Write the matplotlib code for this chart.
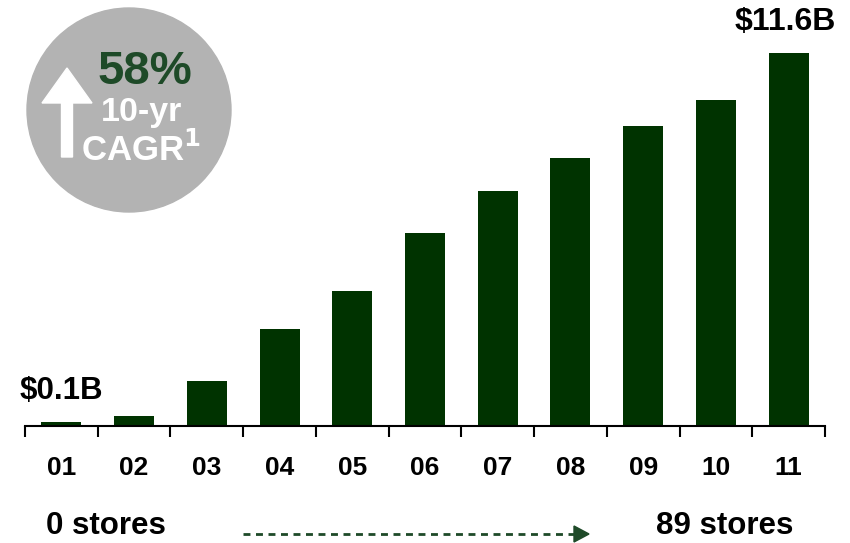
import numpy as np
import matplotlib
matplotlib.use('Agg')
import matplotlib.pyplot as plt
from matplotlib.patches import Circle, FancyArrow, Polygon

plt.rcParams['font.family'] = ['Liberation Sans', 'DejaVu Sans']

years = ['01', '02', '03', '04', '05', '06', '07', '08', '09', '10', '11']
revenue = [0.1, 0.3, 1.4, 3.0, 4.2, 6.0, 7.3, 8.35, 9.35, 10.15, 11.6]
first_label = '$0.1B'
last_label = '$11.6B'
cagr = '58%'

bar_color = '#003300'
text_green = '#1e4a28'

fig = plt.figure(figsize=(8.5, 5.43), dpi=100)
# pixel-based overlay for decorations
px = fig.add_axes([0, 0, 1, 1])
px.set_xlim(0, 850)
px.set_ylim(543, 0)
px.axis('off')

ax = fig.add_axes([25 / 850, 1 - 425.7 / 543, 800 / 850, 425.7 / 543])
ax.patch.set_alpha(0)
x = np.arange(len(years))
ax.bar(x, revenue, width=0.55, color=bar_color)
ax.set_xlim(-0.5, len(years) - 0.5)
ax.set_ylim(0, 13.26)
for s in ['top', 'right', 'left']:
    ax.spines[s].set_visible(False)
ax.spines['bottom'].set_linewidth(1.5)
ax.set_yticks([])
ax.set_xticks(np.arange(len(years) + 1) - 0.5)
ax.set_xticklabels([])
ax.tick_params(axis='x', direction='out', length=8, width=1.5)
for xi, lab in zip(x, years):
    ax.annotate(lab, (xi, 0), xytext=(0, -42), textcoords='offset pixels',
                ha='center', va='center', fontsize=19, fontweight='bold')

ax.annotate(first_label, (x[0], revenue[0]), xytext=(0, 31), textcoords='offset pixels',
            ha='center', va='center', fontsize=22.5, fontweight='bold')
ax.annotate(last_label, (x[-1], revenue[-1]), xytext=(-3, 31), textcoords='offset pixels',
            ha='center', va='center', fontsize=23, fontweight='bold')

# CAGR badge
px.add_patch(Circle((129, 110), 102, color='#b3b3b3', zorder=1))
px.add_patch(FancyArrow(67, 157, 0, -89, width=11, head_width=50, head_length=35,
                        length_includes_head=True, color='white', zorder=2))
px.text(145, 72, cagr, ha='center', va='center', fontsize=34, fontweight='bold',
        color=text_green, zorder=3)
px.text(142, 113, '10-yr', ha='center', va='center', fontsize=24.5, fontweight='bold',
        color='white', zorder=3)
px.text(141, 150, 'CAGR$^{\\mathbf{1}}$', ha='center', va='center', fontsize=25,
        fontweight='bold', color='white', zorder=3)

# store count footer
px.text(46, 526, '0 stores', ha='left', va='center', fontsize=22.5, fontweight='bold')
px.text(793, 526, '89 stores', ha='right', va='center', fontsize=22.5, fontweight='bold')
px.plot([243, 576], [534, 534], color=text_green, lw=2, ls=(0, (2.5, 2)))
px.add_patch(Polygon([[574, 526], [574, 542], [589, 534]], closed=True, color=text_green))

fig.savefig('out.png', dpi=100)
